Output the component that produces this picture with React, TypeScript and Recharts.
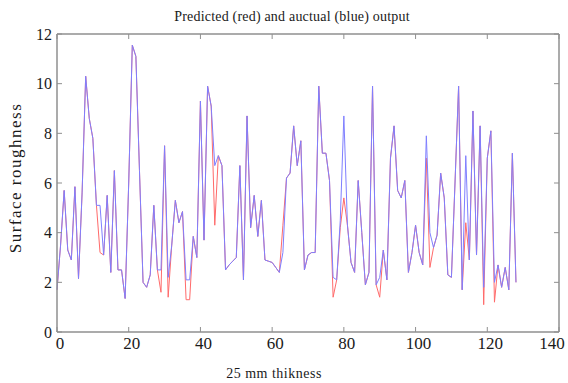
import { LineChart, Line, XAxis, YAxis } from "recharts";

const actual = [
  1.7, 3.5, 5.7, 3.3, 2.9, 5.85, 2.15, 5.6, 10.3, 8.6,
  7.8, 5.1, 5.1, 3.1, 5.5, 2.4, 6.5, 2.5, 2.5, 1.35,
  6.0, 11.55, 11.1, 6.5, 2.0, 1.8, 2.3, 5.1, 2.5, 2.5,
  7.5, 2.2, 3.5, 5.3, 4.4, 4.85, 2.1, 2.1, 3.85, 3.0,
  9.3, 3.7, 9.9, 9.1, 6.7, 7.1, 6.7, 2.5, 2.7, 2.85,
  3.0, 6.7, 2.1, 8.7, 4.2, 5.5, 3.85, 5.3, 2.9, 2.85,
  2.8, 2.6, 2.4, 3.2, 6.2, 6.4, 8.3, 6.7, 7.7, 2.5,
  3.1, 3.2, 3.2, 9.9, 7.2, 7.2, 6.1, 2.2, 2.1, 4.5,
  8.7, 4.3, 2.8, 2.4, 6.1, 4.0, 1.9, 2.4, 9.9, 1.9,
  2.2, 3.3, 2.1, 7.0, 8.3, 5.7, 5.4, 6.1, 2.4, 3.2,
  4.3, 3.2, 2.7, 7.9, 4.0, 3.4, 3.9, 6.4, 5.4, 2.3,
  2.2, 6.0, 9.9, 1.7, 7.1, 2.9, 8.9, 3.1, 8.3, 1.8,
  7.0, 8.1, 2.0, 2.7, 1.8, 2.6, 1.7, 7.2, 2.0,
];

const predicted = [
  1.7, 3.5, 5.7, 3.3, 2.9, 5.85, 2.15, 5.6, 10.3, 8.6,
  7.8, 5.1, 3.2, 3.1, 5.5, 2.4, 6.5, 2.5, 2.5, 1.35,
  6.0, 11.55, 11.1, 6.5, 2.0, 1.8, 2.3, 5.1, 2.5, 1.6,
  7.5, 1.4, 3.5, 5.3, 4.4, 4.85, 1.3, 1.3, 3.85, 3.0,
  9.3, 3.7, 9.9, 9.1, 4.3, 7.1, 6.7, 2.5, 2.7, 2.85,
  3.0, 6.7, 2.1, 8.7, 4.2, 5.5, 3.85, 5.3, 2.9, 2.85,
  2.8, 2.6, 2.4, 4.3, 6.2, 6.4, 8.3, 6.7, 7.7, 2.5,
  3.1, 3.2, 3.2, 9.9, 7.2, 7.2, 6.1, 1.4, 2.1, 4.2,
  5.4, 4.3, 2.8, 2.4, 6.1, 4.0, 1.9, 2.4, 9.9, 1.9,
  1.4, 3.3, 2.1, 7.0, 8.3, 5.7, 5.4, 6.1, 2.4, 3.2,
  4.3, 3.2, 2.7, 7.0, 2.6, 3.4, 3.9, 6.4, 5.4, 2.3,
  2.2, 6.0, 9.9, 1.7, 4.4, 2.9, 8.9, 3.1, 8.3, 1.1,
  7.0, 8.1, 1.2, 2.7, 1.8, 2.6, 1.7, 7.2, 2.0,
];

const xTicks = [0, 20, 40, 60, 80, 100, 120, 140];
const yTicks = [0, 2, 4, 6, 8, 10, 12];

const data = actual.map((v, i) => ({ x: i, actual: v, predicted: predicted[i] }));

const frame = "#8f8f8f";
const serif = "'Liberation Serif', 'Times New Roman', serif";
const font = { fontFamily: serif, fill: "#1a1a1a" };

// bottom tick labels sit a bit right of the tick; the last one is squeezed at the edge
const XTick = (props: any) => {
  const { x, y, payload } = props;
  const shift = payload.value === 140 ? -4 : 3;
  return (
    <text x={x + shift} y={y} dy="0.71em" textAnchor="middle" fontFamily={serif} fontSize={17} fill="#1a1a1a">
      {payload.value}
    </text>
  );
};

// top/right frame axes: tick marks only, no labels
const NoLabel = () => <g />;

export default function App() {
  return (
    <div style={{ position: "absolute", left: 0, top: 0, width: 568, height: 383, background: "#fff" }}>
      {/* title and x label as plain text over the chart */}
      <div
        style={{
          position: "absolute",
          left: 0,
          width: 584,
          top: 9,
          textAlign: "center",
          fontFamily: serif,
          fontSize: 14,
          letterSpacing: 0.2,
          color: "#1a1a1a",
          lineHeight: "16px",
        }}
      >
        Predicted (red) and auctual (blue) output
      </div>
      <div
        style={{
          position: "absolute",
          left: 0,
          width: 548,
          top: 366,
          textAlign: "center",
          fontFamily: serif,
          fontSize: 14,
          letterSpacing: 0.5,
          color: "#1a1a1a",
          lineHeight: "16px",
        }}
      >
        25 mm thikness
      </div>
      <LineChart width={568} height={383} data={data} margin={{ top: 33, right: 8, left: 17, bottom: 21 }}>
        <XAxis
          xAxisId="b"
          dataKey="x"
          type="number"
          domain={[0, 140]}
          ticks={xTicks}
          height={30}
          tickSize={-5}
          tickMargin={10}
          stroke={frame}
          axisLine={{ stroke: frame, strokeWidth: 1.5 }}
          tick={<XTick />}
        />
        <XAxis
          xAxisId="t"
          orientation="top"
          dataKey="x"
          type="number"
          domain={[0, 140]}
          allowDataOverflow
          ticks={xTicks}
          height={1}
          tickSize={-5}
          tick={<NoLabel />}
          stroke={frame}
          axisLine={{ stroke: frame, strokeWidth: 1.5 }}
        />
        <YAxis
          yAxisId="l"
          type="number"
          domain={[0, 12]}
          ticks={yTicks}
          width={40}
          tickSize={-5}
          tickMargin={10}
          stroke={frame}
          axisLine={{ stroke: frame, strokeWidth: 1.5 }}
          tick={{ ...font, fontSize: 16 }}
          label={{
            value: "Surface roughness",
            angle: -90,
            position: "insideLeft",
            offset: -2,
            dy: -5,
            style: { ...font, fontSize: 17, letterSpacing: 1.5, textAnchor: "middle" },
          }}
        />
        <YAxis
          yAxisId="r"
          orientation="right"
          type="number"
          domain={[0, 12]}
          allowDataOverflow
          ticks={yTicks}
          width={1}
          tickSize={-5}
          tick={<NoLabel />}
          stroke={frame}
          axisLine={{ stroke: frame, strokeWidth: 1.5 }}
        />
        <Line
          xAxisId="t"
          yAxisId="r"
          type="linear"
          dataKey="predicted"
          stroke="#ff6a6a"
          strokeWidth={1}
          dot={false}
          isAnimationActive={false}
        />
        <Line
          xAxisId="b"
          yAxisId="l"
          type="linear"
          dataKey="actual"
          stroke="#7f7fff"
          strokeWidth={1}
          dot={false}
          isAnimationActive={false}
        />
      </LineChart>
    </div>
  );
}
